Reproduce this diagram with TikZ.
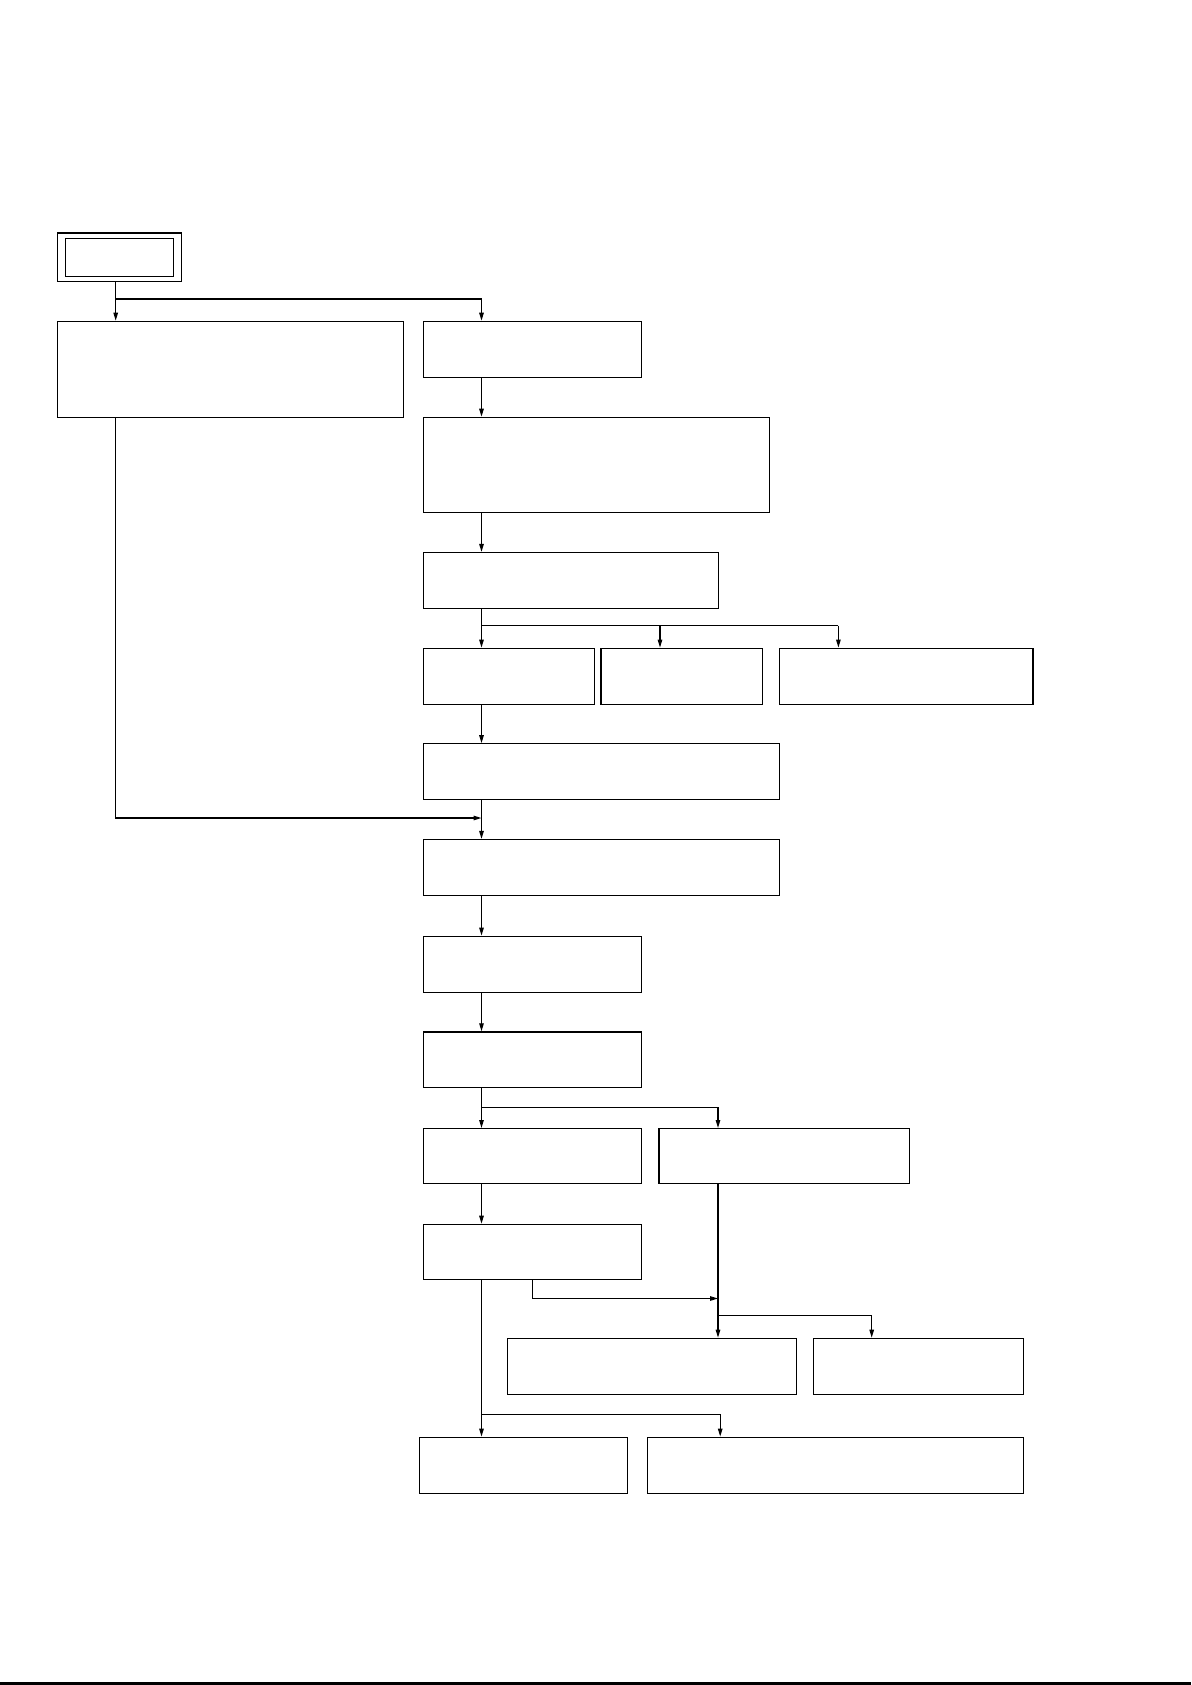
\documentclass[tikz,border=0pt]{standalone}
\usetikzlibrary{arrows.meta,fit}
\begin{document}
\begin{tikzpicture}[x=1pt,y=-1pt,
  box/.style={draw,line width=1.2pt,inner sep=0pt,fit={#1}},
  conn/.style={line width=1.2pt},
  arr/.style={conn,-{Triangle[length=8pt,width=4.5pt]}}]
\useasboundingbox (0,0) rectangle (1191,1685);
\fill[white] (0,0) rectangle (1191,1685);
% start box
\node[box={(57.3,233) (181.7,281.7)}] (S) {};
\node[box={(65.3,238.5) (173.7,276.5)}] (Si) {};
% boxes
\node[box={(57.3,321.3) (403.3,417.3)}] (A) {};
\node[box={(423.5,321.3) (641.7,377.3)}] (B) {};
\node[box={(423.5,417.3) (769.6,512.5)}] (C) {};
\node[box={(423.5,552.5) (718.3,608.5)}] (D) {};
\node[box={(423.5,648.2) (594.4,704.1)}] (E1) {};
\node[box={(600.9,648.2) (762.1,704.1)}] (E2) {};
\node[box={(779.3,648.2) (1033,704.1)}] (E3) {};
\node[box={(423.5,743.8) (779.3,799.7)}] (F) {};
\node[box={(423.5,839.5) (779.3,895.4)}] (G) {};
\node[box={(423.5,936.2) (641.7,992.1)}] (H) {};
\node[box={(423.5,1031.9) (641.7,1087.8)}] (I) {};
\node[box={(423.5,1128.6) (641.7,1183.5)}] (J1) {};
\node[box={(659,1128.6) (909.4,1183.5)}] (J2) {};
\node[box={(423.5,1224.3) (641.7,1279.1)}] (K) {};
\node[box={(507.4,1338.3) (796.5,1394.1)}] (L1) {};
\node[box={(813.7,1338.3) (1023.3,1394.1)}] (L2) {};
\node[box={(419.2,1437.2) (627.7,1493.1)}] (M1) {};
\node[box={(647.1,1437.2) (1023.3,1493.1)}] (M2) {};
% x positions
\coordinate (xa) at (115.7,0);
\coordinate (xm) at (481.5,0);
\coordinate (xe2) at (660,0);
\coordinate (xe3) at (838.4,0);
\coordinate (xj) at (718,0);
\coordinate (xk) at (532.1,0);
\coordinate (xl2) at (871.7,0);
\coordinate (xm2) at (720.2,0);
% junction y levels
\coordinate (y1) at (0,299);
\coordinate (y2) at (0,625.6);
\coordinate (y3) at (0,818);
\coordinate (y4) at (0,1107.2);
\coordinate (y5) at (0,1298.5);
\coordinate (y6) at (0,1315.6);
\coordinate (y7) at (0,1414.6);
% connectors
\draw[arr] (S.south -| xa) -- (A.north -| xa);
\draw[arr] (xa |- y1) -- (xm |- y1) -- (B.north -| xm);
\draw[arr] (B.south -| xm) -- (C.north -| xm);
\draw[arr] (C.south -| xm) -- (D.north -| xm);
\draw[arr] (D.south -| xm) -- (E1.north -| xm);
\draw[conn] (xm |- y2) -- (xe3 |- y2);
\draw[arr] (xe2 |- y2) -- (E2.north -| xe2);
\draw[arr] (xe3 |- y2) -- (E3.north -| xe3);
\draw[arr] (E1.south -| xm) -- (F.north -| xm);
\draw[arr] (F.south -| xm) -- (G.north -| xm);
\draw[arr] (A.south -| xa) -- (xa |- y3) -- (xm |- y3);
\draw[arr] (G.south -| xm) -- (H.north -| xm);
\draw[arr] (H.south -| xm) -- (I.north -| xm);
\draw[arr] (I.south -| xm) -- (J1.north -| xm);
\draw[arr] (xm |- y4) -- (xj |- y4) -- (J2.north -| xj);
\draw[arr] (J1.south -| xm) -- (K.north -| xm);
\draw[arr] (J2.south -| xj) -- (L1.north -| xj);
\draw[arr] (K.south -| xk) -- (xk |- y5) -- (xj |- y5);
\draw[arr] (xj |- y6) -- (xl2 |- y6) -- (L2.north -| xl2);
\draw[arr] (K.south -| xm) -- (M1.north -| xm);
\draw[arr] (xm |- y7) -- (xm2 |- y7) -- (M2.north -| xm2);
% bottom rule
\fill (0,1682.3) rectangle (1191,1685);
\end{tikzpicture}
\end{document}
